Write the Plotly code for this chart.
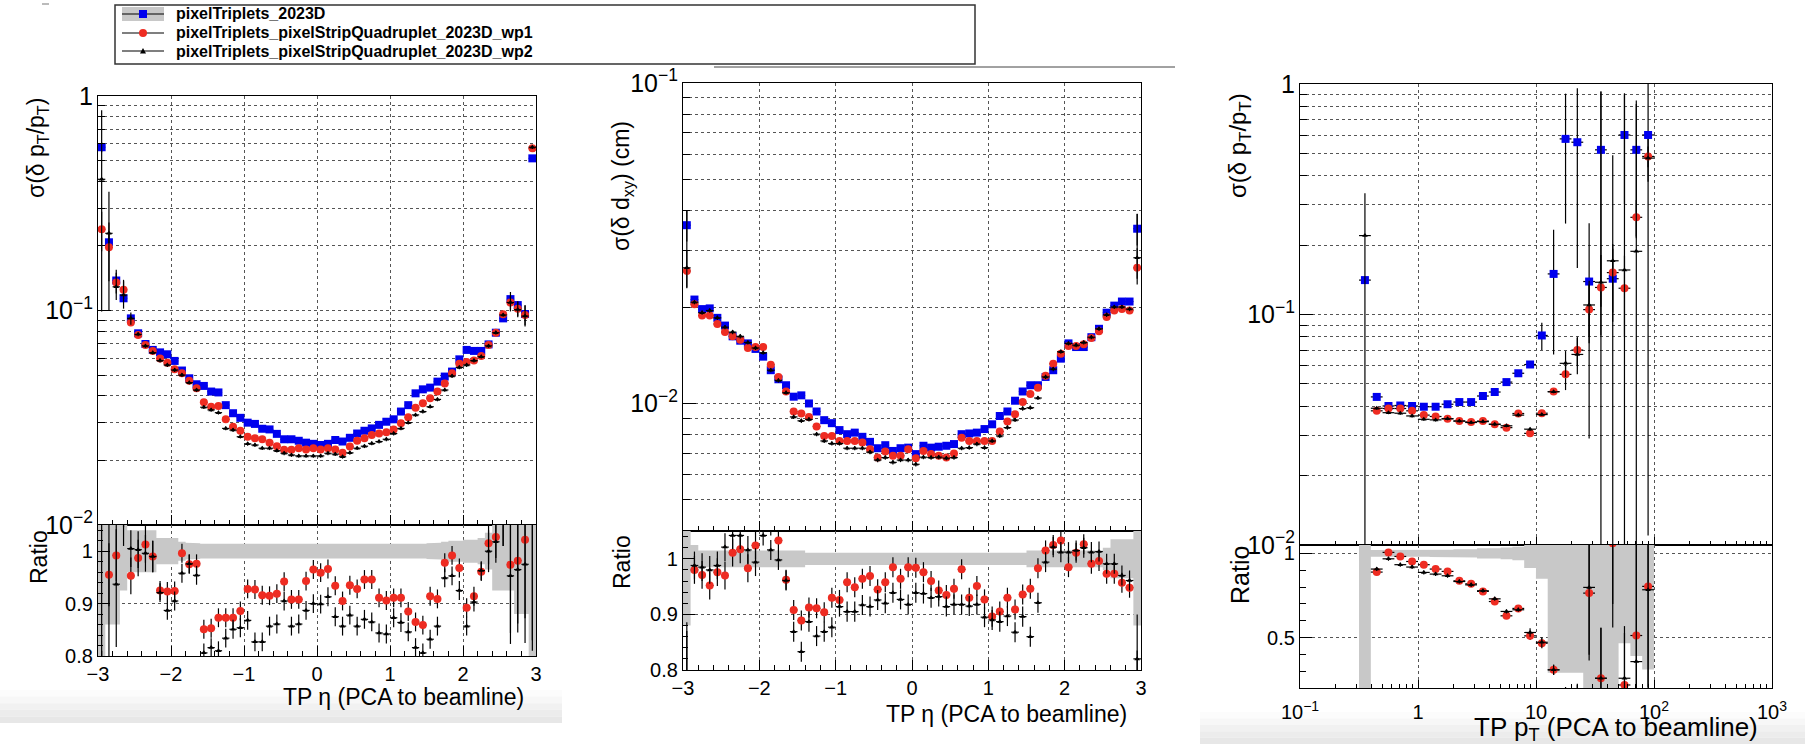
import plotly.graph_objects as go

W, H = 1805, 744
FONT = "Liberation Sans, Arial, Helvetica, sans-serif"
GRID = "#555555"


def px(x):
    return x / W


def py(y):
    return 1 - y / H


# ---------------- data: panel 1 (sigma(dpT/pT) vs eta) ----------------
ETA = [-2.95, -2.85, -2.75, -2.65, -2.55, -2.45, -2.35, -2.25, -2.15, -2.05,
       -1.95, -1.85, -1.75, -1.65, -1.55, -1.45, -1.35, -1.25, -1.15, -1.05,
       -0.95, -0.85, -0.75, -0.65, -0.55, -0.45, -0.35, -0.25, -0.15, -0.05,
       0.05, 0.15, 0.25, 0.35, 0.45, 0.55, 0.65, 0.75, 0.85, 0.95,
       1.05, 1.15, 1.25, 1.35, 1.45, 1.55, 1.65, 1.75, 1.85, 1.95,
       2.05, 2.15, 2.25, 2.35, 2.45, 2.55, 2.65, 2.75, 2.85, 2.95]

P1_REF = [0.577, 0.208, 0.138, 0.114, 0.0919, 0.0783, 0.0698, 0.0655, 0.0638, 0.0625,
          0.0582, 0.0525, 0.0483, 0.0453, 0.0445, 0.0419, 0.0415, 0.0362, 0.0332, 0.0316,
          0.0300, 0.0296, 0.0281, 0.0279, 0.0266, 0.0251, 0.0251, 0.0247, 0.0242, 0.0239,
          0.0236, 0.0239, 0.0249, 0.0245, 0.0255, 0.0267, 0.0275, 0.0282, 0.0293, 0.0303,
          0.0311, 0.0338, 0.0362, 0.0411, 0.0429, 0.0437, 0.0466, 0.0492, 0.0519, 0.0592,
          0.0655, 0.0648, 0.0648, 0.0695, 0.0788, 0.0919, 0.113, 0.106, 0.0963, 0.512]
P1_WP1 = [0.239, 0.197, 0.135, 0.125, 0.0878, 0.0769, 0.0690, 0.0648, 0.0598, 0.0571,
          0.0532, 0.0510, 0.0471, 0.0434, 0.0373, 0.0356, 0.0359, 0.0311, 0.0287, 0.0275,
          0.0258, 0.0254, 0.0251, 0.0242, 0.0233, 0.0224, 0.0224, 0.0228, 0.0225, 0.0228,
          0.0225, 0.0228, 0.0225, 0.0217, 0.0232, 0.0247, 0.0254, 0.0263, 0.0267, 0.0271,
          0.0279, 0.0298, 0.0318, 0.0352, 0.0369, 0.0390, 0.0419, 0.0457, 0.0510, 0.0564,
          0.0575, 0.0584, 0.0614, 0.0690, 0.0788, 0.0960, 0.109, 0.102, 0.0953, 0.570]
P1_WP2 = [0.409, 0.229, 0.129, 0.118, 0.0919, 0.0774, 0.0684, 0.0636, 0.0584, 0.0557,
          0.0528, 0.0500, 0.0461, 0.0426, 0.0354, 0.0344, 0.0334, 0.0282, 0.0277, 0.0258,
          0.0239, 0.0236, 0.0228, 0.0228, 0.0222, 0.0216, 0.0212, 0.0210, 0.0210, 0.0210,
          0.0210, 0.0216, 0.0214, 0.0208, 0.0217, 0.0228, 0.0233, 0.0240, 0.0245, 0.0251,
          0.0267, 0.0282, 0.0300, 0.0326, 0.0338, 0.0356, 0.0385, 0.0426, 0.0495, 0.0543,
          0.0557, 0.0584, 0.0609, 0.0684, 0.0788, 0.0953, 0.109, 0.101, 0.0942, 0.577]
P1_R_WP1 = [0.41, 0.955, 0.992, 1.096, 0.953, 0.987, 1.013, 0.990, 0.925, 0.923,
            0.924, 0.996, 0.975, 0.976, 0.851, 0.853, 0.873, 0.873, 0.873, 0.886,
            0.928, 0.927, 0.916, 0.915, 0.919, 0.942, 0.908, 0.908, 0.943, 0.965,
            0.959, 0.966, 0.934, 0.905, 0.935, 0.928, 0.946, 0.946, 0.911, 0.906,
            0.911, 0.911, 0.885, 0.865, 0.859, 0.914, 0.909, 0.978, 0.992, 0.968,
            0.892, 0.914, 0.961, 1.015, 1.027, 1.06, 0.974, 0.982, 1.022, 1.11]
P1_R_WP2 = [0.71, 1.10, 0.937, 1.06, 1.005, 1.003, 0.996, 0.990, 0.921, 0.887,
            0.905, 0.958, 0.976, 0.954, 0.806, 0.816, 0.810, 0.834, 0.851, 0.854,
            0.868, 0.827, 0.827, 0.857, 0.861, 0.905, 0.857, 0.861, 0.887, 0.900,
            0.899, 0.913, 0.875, 0.857, 0.878, 0.857, 0.870, 0.865, 0.844, 0.842,
            0.873, 0.864, 0.846, 0.816, 0.806, 0.832, 0.857, 0.949, 0.953, 0.925,
            0.857, 0.903, 0.963, 1.000, 1.018, 1.06, 0.953, 0.965, 0.975, 1.13]
P1_BAND = [0.5, 0.14, 0.14, 0.075, 0.04, 0.04, 0.04, 0.04, 0.025, 0.025,
           0.025, 0.018, 0.016, 0.015, 0.014, 0.014, 0.013, 0.013, 0.013, 0.013,
           0.013, 0.013, 0.013, 0.013, 0.013, 0.013, 0.013, 0.013, 0.013, 0.013,
           0.013, 0.013, 0.013, 0.013, 0.013, 0.013, 0.013, 0.013, 0.013, 0.013,
           0.013, 0.013, 0.013, 0.014, 0.014, 0.015, 0.016, 0.018, 0.02, 0.02,
           0.022, 0.022, 0.025, 0.035, 0.075, 0.075, 0.075, 0.12, 0.12, 0.5]
P1_ERR_REF = {0: (0.03, 0.03), 1: (0.02, 0.02)}
P1_ERR_WP1 = {0: (0.05, 0.05), 1: (0.06, 0.06), 2: (0.015, 0.015), 3: (0.012, 0.012),
              56: (0.008, 0.008), 57: (0.008, 0.008), 58: (0.01, 0.01)}
P1_ERR_WP2 = {0: (0.45, 0.31), 1: (0.129, 0.129), 2: (0.026, 0.017), 3: (0.021, 0.016),
              4: (0.006, 0.006), 56: (0.013, 0.01), 57: (0.009, 0.008), 58: (0.012, 0.01)}
P1_RERR = {0: 0.4, 1: 0.06, 2: 0.05, 3: 0.05, 4: 0.035, 5: 0.035, 6: 0.035, 7: 0.03,
           53: 0.04, 54: 0.04, 55: 0.05, 56: 0.13, 57: 0.12, 58: 0.15, 59: 0.3}
P1_RERR_WP2 = {1: 0.35, 2: 0.12}

# ---------------- data: panel 2 (sigma(d dxy) vs eta) ----------------
P2_REF = [0.0360, 0.0211, 0.0197, 0.0198, 0.0185, 0.0175, 0.0162, 0.0157, 0.0154, 0.0148,
          0.0140, 0.0127, 0.0119, 0.0114, 0.0105, 0.0106, 0.0100, 0.00944, 0.00887, 0.00868,
          0.00826, 0.00802, 0.00811, 0.00787, 0.00759, 0.00725, 0.00741, 0.00711, 0.00725, 0.00728,
          0.00695, 0.00738, 0.00728, 0.00733, 0.00738, 0.00747, 0.00802, 0.00806, 0.00811, 0.00832,
          0.00861, 0.00914, 0.00944, 0.0102, 0.0109, 0.0114, 0.0114, 0.0121, 0.0127, 0.0138,
          0.0154, 0.0150, 0.0150, 0.0161, 0.0171, 0.0192, 0.0202, 0.0208, 0.0208, 0.0351]
P2_WP1 = [0.0259, 0.0204, 0.0188, 0.0188, 0.0177, 0.0167, 0.0162, 0.0158, 0.0149, 0.0150,
          0.0150, 0.0132, 0.0121, 0.0109, 0.00944, 0.00931, 0.00908, 0.00848, 0.00792, 0.00792,
          0.00764, 0.00764, 0.00764, 0.00755, 0.00720, 0.00678, 0.00708, 0.00687, 0.00687, 0.00720,
          0.00675, 0.00711, 0.00695, 0.00687, 0.00678, 0.00698, 0.00782, 0.00764, 0.00764, 0.00764,
          0.00764, 0.00818, 0.00879, 0.00926, 0.0101, 0.0107, 0.0112, 0.0122, 0.0133, 0.0143,
          0.0151, 0.0151, 0.0153, 0.0160, 0.0168, 0.0186, 0.0195, 0.0197, 0.0195, 0.0265]
P2_WP2 = [0.0265, 0.0207, 0.0192, 0.0195, 0.0185, 0.0173, 0.0167, 0.0162, 0.0155, 0.0149,
          0.0144, 0.0127, 0.0118, 0.0108, 0.00908, 0.00883, 0.00892, 0.00802, 0.00764, 0.00750,
          0.00750, 0.00725, 0.00725, 0.00725, 0.00705, 0.00666, 0.00678, 0.00655, 0.00666, 0.00666,
          0.00646, 0.00680, 0.00678, 0.00680, 0.00675, 0.00678, 0.00725, 0.00728, 0.00747, 0.00728,
          0.00764, 0.00792, 0.00841, 0.00888, 0.00964, 0.00970, 0.0104, 0.0121, 0.0128, 0.0145,
          0.0154, 0.0152, 0.0155, 0.0161, 0.0171, 0.0189, 0.0200, 0.0200, 0.0197, 0.0285]
P2_R_WP1 = [0.72, 0.980, 0.971, 0.952, 0.976, 0.970, 1.011, 1.017, 0.983, 1.024,
            1.07, 1.06, 1.033, 0.9625, 0.908, 0.889, 0.9125, 0.911, 0.904, 0.930,
            0.926, 0.958, 0.949, 0.964, 0.969, 0.945, 0.958, 0.985, 0.964, 0.985,
            0.984, 0.976, 0.960, 0.943, 0.935, 0.946, 0.981, 0.930, 0.951, 0.927,
            0.896, 0.905, 0.930, 0.909, 0.936, 0.946, 0.983, 1.015, 1.025, 1.033,
            0.985, 1.011, 1.026, 0.991, 0.996, 0.973, 0.973, 0.957, 0.948, 0.755]
P2_R_WP2 = [0.736, 0.988, 0.985, 0.980, 0.988, 1.021, 1.042, 1.042, 1.016, 0.994,
            1.042, 1.016, 0.998, 0.961, 0.869, 0.833, 0.887, 0.861, 0.869, 0.877,
            0.914, 0.905, 0.905, 0.917, 0.914, 0.926, 0.920, 0.939, 0.927, 0.918,
            0.939, 0.9375, 0.930, 0.932, 0.914, 0.918, 0.918, 0.915, 0.918, 0.895,
            0.890, 0.887, 0.897, 0.868, 0.896, 0.860, 0.921, 0.994, 1.021, 1.012,
            1.012, 1.015, 1.020, 1.012, 1.013, 0.991, 0.991, 0.970, 0.961, 0.820]
P2_BAND = [0.12, 0.025, 0.015, 0.015, 0.015, 0.015, 0.015, 0.015, 0.015, 0.015,
           0.015, 0.015, 0.015, 0.015, 0.015, 0.015, 0.011, 0.011, 0.011, 0.011,
           0.011, 0.011, 0.011, 0.011, 0.011, 0.011, 0.011, 0.011, 0.011, 0.011,
           0.011, 0.011, 0.011, 0.011, 0.011, 0.011, 0.011, 0.011, 0.011, 0.011,
           0.011, 0.011, 0.011, 0.011, 0.011, 0.015, 0.015, 0.015, 0.015, 0.015,
           0.015, 0.015, 0.015, 0.015, 0.015, 0.02, 0.035, 0.035, 0.035, 0.12]
P2_ERR_REF = {0: (0.004, 0.004), 59: (0.004, 0.004)}
P2_ERR_WP1 = {0: (0.004, 0.003), 59: (0.004, 0.003)}
P2_ERR_WP2 = {0: (0.0135, 0.0035), 59: (0.0105, 0.004)}
P2_RERR = {0: 0.15, 1: 0.025, 2: 0.025, 3: 0.025, 4: 0.025, 5: 0.025, 6: 0.025,
           7: 0.025, 8: 0.025, 9: 0.025, 59: 0.08}

# ---------------- data: panel 3 (sigma(dpT/pT) vs pT) ----------------
PT = [0.355, 0.447, 0.562, 0.708, 0.891, 1.12, 1.41, 1.78, 2.24, 2.82,
      3.55, 4.47, 5.62, 7.08, 8.91, 11.2, 14.1, 17.8, 22.4, 28.2,
      35.5, 44.7, 56.2, 70.8, 89.1]
P3_REF = [0.141, 0.0439, 0.0401, 0.0403, 0.0401, 0.0398, 0.0398, 0.0408, 0.0417, 0.0417,
          0.0443, 0.0461, 0.0509, 0.0556, 0.0607, 0.0811, 0.150, 0.578, 0.559, 0.139,
          0.518, 0.143, 0.601, 0.518, 0.601]
P3_WP1 = [None, 0.0382, 0.0391, 0.0391, 0.0382, 0.0366, 0.0361, 0.0353, 0.0345, 0.0342,
          0.0345, 0.0334, 0.0323, 0.0372, 0.0305, 0.0373, 0.0463, 0.0550, 0.0701, 0.105,
          0.131, 0.152, 0.130, 0.264, 0.485]
P3_WP2 = [0.220, 0.0392, 0.0375, 0.0373, 0.0363, 0.0351, 0.0349, 0.0353, 0.0345, 0.0340,
          0.0343, 0.0334, 0.0329, 0.0366, 0.0318, 0.0368, 0.0462, 0.0614, 0.0671, 0.110,
          0.138, 0.171, 0.156, 0.188, 0.477]
P3_R_WP1 = [None, 0.889, 1.006, 0.982, 0.952, 0.933, 0.907, 0.893, 0.837, 0.819,
            0.774, 0.714, 0.629, 0.673, 0.510, 0.466, 0.308, 0.095, 0.125, 0.764,
            0.258, 1.06, 0.218, 0.512, 0.804]
P3_R_WP2 = [1.56, 0.907, 0.968, 0.933, 0.919, 0.887, 0.877, 0.867, 0.833, 0.813,
            0.778, 0.730, 0.655, 0.665, 0.530, 0.472, 0.308, 0.106, 0.120, 0.798,
            0.258, 1.20, 0.258, 0.357, 0.784]
P3_BAND = [0.9, 0.02, 0.02, 0.02, 0.02, 0.02, 0.022, 0.022, 0.025, 0.025,
           0.03, 0.03, 0.035, 0.04, 0.087, 0.15, 0.71, 0.71, 0.71, 0.85,
           0.85, 0.85, 0.534, 0.61, 0.69]
P3_ERR_REF = {15: (0.011, 0.011), 16: (0.083, 0.083), 17: (0.33, 0.33), 18: (0.40, 0.40),
              19: (0.11, 0.11), 20: (0.41, 0.41), 21: (0.05, 0.05), 22: (0.3, 0.3),
              23: (0.3, 0.3), 24: (0.59, 0.59)}
P3_ERR_WP1 = {17: (0.008, 0.008), 18: (0.01, 0.01), 19: (0.03, 0.03), 20: (0.05, 0.05),
              21: (0.05, 0.05), 22: (0.05, 0.05), 23: (0.05, 0.05), 24: (0.05, 0.05)}
P3_ERR_WP2 = {0: (0.116, 'b'), 17: (0.008, 0.008), 18: (0.012, 0.012), 19: (0.03, 0.03),
              20: (0.79, 'b'), 21: (0.32, 'b'), 22: (0.755, 'b'), 23: (0.66, 'b'),
              24: (0.1, 0.1)}
P3_RERR = {0: 0.5, 14: 0.025, 15: 0.03, 16: 0.03, 17: 0.1, 18: 0.1, 19: 0.4, 20: 0.3,
           21: 0.5, 22: 0.31, 23: 0.7, 24: 0.6}

PT_TICKS = [0.1, 1, 10, 100, 1000]
PT_TICKTEXT = ["10<sup>−1</sup>", "1", "10", "10<sup>2</sup>", "10<sup>3</sup>"]

NAMES = ["pixelTriplets_2023D",
         "pixelTriplets_pixelStripQuadruplet_2023D_wp1",
         "pixelTriplets_pixelStripQuadruplet_2023D_wp2"]
COL_REF, COL_WP1, COL_WP2 = "#0000ee", "#ee2c22", "#000000"


def up_err(vals, rel, over):
    plus, minus = [], []
    for i, v in enumerate(vals):
        if v is None:
            plus.append(None)
            minus.append(None)
        elif i in over:
            p, m = over[i]
            plus.append(p)
            minus.append(0.995 * v if m == 'b' else m)
        else:
            plus.append(rel * v)
            minus.append(rel * v)
    return plus, minus


def r_err(n, default, *overs):
    out = [default] * n
    for o in overs:
        for k, v in o.items():
            out[k] = v
    return out


fig = go.Figure()


def band(xa, ya, lo, hi, hw):
    xs, ys = [], []
    for a, b, h in zip(lo, hi, hw):
        xs += [a, b]
        ys += [1 + h, 1 + h]
    for a, b, h in reversed(list(zip(lo, hi, hw))):
        xs += [b, a]
        ys += [1 - h, 1 - h]
    fig.add_trace(go.Scatter(x=xs, y=ys, xaxis=xa, yaxis=ya, mode="lines", fill="toself",
                             fillcolor="#c8c8c8", line=dict(width=0), showlegend=False,
                             hoverinfo="skip"))


def pts(xa, ya, x, y, ep, em, exp, exm, color, symbol, size):
    fig.add_trace(go.Scatter(
        x=x, y=y, xaxis=xa, yaxis=ya, mode="markers",
        marker=dict(color=color, symbol=symbol, size=size, line=dict(width=0)),
        error_y=dict(type="data", array=ep, arrayminus=em, symmetric=False,
                     color="black", thickness=1.2, width=0),
        error_x=dict(type="data", array=exp, arrayminus=exm, symmetric=False,
                     color="black", thickness=1.2, width=0),
        showlegend=False, hoverinfo="skip"))


STY = [(COL_REF, "square", 8), (COL_WP1, "circle", 8), (COL_WP2, "triangle-up", 5)]

# ---- eta panels ----
EX = [0.05] * len(ETA)
ETA_LO = [e - 0.05 for e in ETA]
ETA_HI = [e + 0.05 for e in ETA]

for (xa, ya, xr, yr, ref, w1, w2, eref, e1, e2, rel, r1, r2, bnd, rerr, rerr2) in [
    ("x", "y", "x2", "y2", P1_REF, P1_WP1, P1_WP2, P1_ERR_REF, P1_ERR_WP1, P1_ERR_WP2,
     0.02, P1_R_WP1, P1_R_WP2, P1_BAND, P1_RERR, P1_RERR_WP2),
    ("x3", "y3", "x4", "y4", P2_REF, P2_WP1, P2_WP2, P2_ERR_REF, P2_ERR_WP1, P2_ERR_WP2,
     0.015, P2_R_WP1, P2_R_WP2, P2_BAND, P2_RERR, {}),
]:
    for vals, ov, (c, s, sz) in zip([ref, w1, w2], [eref, e1, e2], STY):
        ep, em = up_err(vals, rel, ov)
        pts(xa, ya, ETA, vals, ep, em, EX, EX, c, s, sz)
    band(xr, yr, ETA_LO, ETA_HI, bnd)
    re1 = r_err(len(ETA), 0.018, rerr)
    re2 = r_err(len(ETA), 0.018, rerr, rerr2)
    pts(xr, yr, ETA, r1, re1, re1, EX, EX, COL_WP1, "circle", 8)
    pts(xr, yr, ETA, r2, re2, re2, EX, EX, COL_WP2, "triangle-up", 5)

# ---- pT panel ----
HALF = 0.05
PT_LO = [c * 10 ** (-HALF) for c in PT]
PT_HI = [c * 10 ** HALF for c in PT]
EXP = [h - c for c, h in zip(PT, PT_HI)]
EXM = [c - l for c, l in zip(PT, PT_LO)]
for vals, ov, (c, s, sz) in zip([P3_REF, P3_WP1, P3_WP2], [P3_ERR_REF, P3_ERR_WP1, P3_ERR_WP2], STY):
    ep, em = up_err(vals, 0.015, ov)
    pts("x5", "y5", PT, vals, ep, em, EXP, EXM, c, s, sz)
band("x6", "y6", PT_LO, PT_HI, P3_BAND)
re3 = r_err(len(PT), 0.012, P3_RERR)
pts("x6", "y6", PT, P3_R_WP1, re3, re3, EXP, EXM, COL_WP1, "circle", 8)
pts("x6", "y6", PT, P3_R_WP2, re3, re3, EXP, EXM, COL_WP2, "triangle-up", 5)


# ---------------- axes ----------------
def ax(**kw):
    d = dict(showline=True, linecolor="black", linewidth=1.2, mirror=True, ticks="inside",
             tickcolor="black", tickwidth=1, zeroline=False, showgrid=True, gridcolor=GRID,
             griddash="dot", gridwidth=1, automargin=False,
             tickfont=dict(family=FONT, size=20, color="black"))
    d.update(kw)
    return d


LOG_MINOR_VALS = [m * 10 ** e for e in (-1, 0, 1, 2) for m in range(2, 10)]
MINOR_ETA = dict(ticks="inside", ticklen=5, dtick=0.2, tick0=0, tickcolor="black", showgrid=False)
MINOR_LOGY = dict(ticks="inside", ticklen=7, dtick="D1", tickcolor="black", showgrid=True,
                  gridcolor=GRID, griddash="dot", gridwidth=1)
MINOR_LOGX = dict(ticks="inside", ticklen=4, tickmode="array", tickvals=LOG_MINOR_VALS,
                  tickcolor="black", showgrid=False)
MINOR_R = dict(ticks="inside", ticklen=5, dtick=0.02, tick0=0, tickcolor="black", showgrid=False)

# panel frames (pixels)
P1X = [98, 536]; P1U = [96, 525]; P1R = [525, 656]
P2X = [683, 1141]; P2U = [83, 531]; P2R = [531, 670]
P3X = [1300, 1772]; P3U = [84, 545]; P3R = [545, 688]

lay = {}
lay["xaxis"] = ax(domain=[px(P1X[0]), px(P1X[1])], anchor="y", range=[-3, 3], dtick=1, tick0=0,
                  ticklen=10, showticklabels=False, minor=MINOR_ETA)
lay["yaxis"] = ax(domain=[py(P1U[1]), py(P1U[0])], anchor="x", type="log", range=[-2, 0], dtick=1,
                  exponentformat="power", ticklen=13, minor=MINOR_LOGY)
lay["xaxis2"] = ax(domain=[px(P1X[0]), px(P1X[1])], anchor="y2", range=[-3, 3], dtick=1, tick0=0,
                   ticklen=10, minor=MINOR_ETA)
lay["yaxis2"] = ax(domain=[py(P1R[1]), py(P1R[0])], anchor="x2", range=[0.8, 1.05], dtick=0.1,
                   tick0=0, ticklen=12, minor=MINOR_R)
lay["xaxis3"] = ax(domain=[px(P2X[0]), px(P2X[1])], anchor="y3", range=[-3, 3], dtick=1, tick0=0,
                   ticklen=10, showticklabels=False, minor=MINOR_ETA)
lay["yaxis3"] = ax(domain=[py(P2U[1]), py(P2U[0])], anchor="x3", type="log",
                   range=[-2.39794, -1], dtick=1, exponentformat="power", ticklen=13, minor=MINOR_LOGY)
lay["xaxis4"] = ax(domain=[px(P2X[0]), px(P2X[1])], anchor="y4", range=[-3, 3], dtick=1, tick0=0,
                   ticklen=10, minor=MINOR_ETA)
lay["yaxis4"] = ax(domain=[py(P2R[1]), py(P2R[0])], anchor="x4", range=[0.8, 1.05], dtick=0.1,
                   tick0=0, ticklen=12, minor=MINOR_R)
lay["xaxis5"] = ax(domain=[px(P3X[0]), px(P3X[1])], anchor="y5", type="log", range=[-1, 3],
                   tickmode="array", tickvals=PT_TICKS, ticklen=8, showticklabels=False,
                   minor=MINOR_LOGX)
lay["yaxis5"] = ax(domain=[py(P3U[1]), py(P3U[0])], anchor="x5", type="log", range=[-2, 0], dtick=1,
                   exponentformat="power", ticklen=13, minor=MINOR_LOGY)
lay["xaxis6"] = ax(domain=[px(P3X[0]), px(P3X[1])], anchor="y6", type="log", range=[-1, 3],
                   tickmode="array", tickvals=PT_TICKS, ticktext=PT_TICKTEXT, ticklen=8,
                   minor=MINOR_LOGX, ticklabelstandoff=6)
lay["yaxis6"] = ax(domain=[py(P3R[1]), py(P3R[0])], anchor="x6", range=[0.2, 1.05],
                   tickmode="array", tickvals=[0.5, 1], ticktext=["0.5", "1"], ticklen=12,
                   minor=dict(ticks="inside", ticklen=6, tickmode="array",
                              tickvals=[0.3, 0.4, 0.6, 0.7, 0.8, 0.9], tickcolor="black",
                              showgrid=False))

# ---------------- text ----------------
ann = []


def text(x, y, t, size, angle=0, xanchor="center", bold=False):
    ann.append(dict(x=px(x), y=py(y), xref="paper", yref="paper", text=t, showarrow=False,
                    textangle=angle, xanchor=xanchor, yanchor="middle",
                    font=dict(family=FONT, size=size, color="black",
                              weight="bold" if bold else "normal")))


SIG_PT = "σ(δ p<sub>T</sub>/p<sub>T</sub>)"
text(37, 148, SIG_PT, 23, -90)
text(39, 557, "Ratio", 23, -90)
text(526, 697, "TP η (PCA to beamline)", 23, xanchor="right")
text(622, 186, "σ(δ d<sub>xy</sub>) (cm)", 23, -90)
text(622, 562, "Ratio", 23, -90)
text(1129, 714, "TP η (PCA to beamline)", 23, xanchor="right")
text(1239, 146, SIG_PT, 24, -90)
text(1240, 575, "Ratio", 25, -90)
text(1760, 728, "TP p<sub>T</sub> (PCA to beamline)", 26, xanchor="right")

# legend
ROWS = [14, 33, 51]
for yy, nm in zip(ROWS, NAMES):
    text(174, yy, nm, 16, xanchor="left", bold=True)

shapes = []


def rect(x0, y0, x1, y1, fill=None, line=None, lw=0, layer="above"):
    shapes.append(dict(type="rect", xref="paper", yref="paper", x0=px(x0), x1=px(x1),
                       y0=py(y1), y1=py(y0), fillcolor=fill or "rgba(0,0,0,0)",
                       line=dict(color=line or "rgba(0,0,0,0)", width=lw), layer=layer))


def hline(x0, x1, y, color="black", lw=1):
    shapes.append(dict(type="line", xref="paper", yref="paper", x0=px(x0), x1=px(x1),
                       y0=py(y), y1=py(y), line=dict(color=color, width=lw)))


# background gradients under panels 1 and 3
for i, g in enumerate(["#fcfcfc", "#f7f7f7", "#f1f1f1", "#ececec", "#e7e7e7"]):
    rect(0, 690 + i * 6.6, 562, 690 + (i + 1) * 6.6, fill=g, layer="below")
    rect(1200, 712 + i * 6.4, 1805, 712 + (i + 1) * 6.4, fill=g, layer="below")

rect(115, 5, 975, 64, line="#333333", lw=1.5)
hline(714, 1175, 67, "#444444", 1)
hline(42, 49, 4, "#bbbbbb", 2)
rect(122, 7, 164, 21, fill="#c8c8c8")
for yy in ROWS:
    hline(122, 164, yy, "black", 1.2)
rect(139, 10, 147, 18, fill=COL_REF)
shapes.append(dict(type="circle", xref="paper", yref="paper", x0=px(139), x1=px(147),
                   y0=py(37), y1=py(29), fillcolor=COL_WP1, line=dict(width=0)))
shapes.append(dict(type="path", xref="paper", yref="paper",
                   path="M %f,%f L %f,%f L %f,%f Z" % (px(140), py(53.5), px(146), py(53.5),
                                                       px(143), py(48)),
                   fillcolor="black", line=dict(width=0)))

fig.update_layout(width=W, height=H, autosize=False, margin=dict(l=0, r=0, t=0, b=0),
                  paper_bgcolor="white", plot_bgcolor="white", showlegend=False,
                  font=dict(family=FONT, color="black"), annotations=ann, shapes=shapes, **lay)

fig.write_html("out.html")
